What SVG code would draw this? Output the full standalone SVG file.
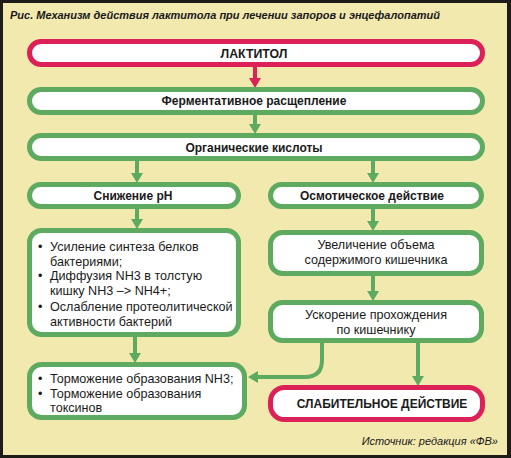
<svg xmlns="http://www.w3.org/2000/svg" width="511" height="458" viewBox="0 0 511 458">
<style>
.g{fill:#ffffff;stroke:#5eaa60;stroke-width:5}
.r{fill:#ffffff;stroke:#dc2159;stroke-width:5}
.cg{fill:none;stroke:#5eaa60;stroke-width:4}
.cr{fill:none;stroke:#dc2159;stroke-width:4}
text{font-family:"Liberation Sans",Arial,sans-serif;fill:#1a1a1a}
.h{font-size:12px;font-weight:bold;text-anchor:middle}
.hb{font-size:12.3px;font-weight:bold;text-anchor:middle}
.t{font-size:12.6px}
.tc{font-size:12.6px;text-anchor:middle}
.it{font-size:11px;font-style:italic}
</style>
<defs>
<marker id="ag" viewBox="0 0 10 12" refX="0" refY="6" markerWidth="10" markerHeight="12" markerUnits="userSpaceOnUse" orient="auto">
<path d="M0,0 L10,6 L0,12 z" fill="#5eaa60"/>
</marker>
<marker id="ar" viewBox="0 0 10 12" refX="0" refY="6" markerWidth="10" markerHeight="12" markerUnits="userSpaceOnUse" orient="auto">
<path d="M0,0 L10,6 L0,12 z" fill="#dc2159"/>
</marker>
</defs>
<rect x="0" y="0" width="511" height="458" fill="#1e1c18"/>
<rect x="3" y="3" width="504" height="452" fill="#f2e9af"/>
<text class="it" x="10" y="19" font-weight="bold" font-size="11.3px">Рис. Механизм действия лактитола при лечении запоров и энцефалопатий</text>

<g id="connectors">
<path class="cr" d="M255,66 V78" marker-end="url(#ar)"/>
<path class="cg" d="M255,114 V124" marker-end="url(#ag)"/>
<path class="cg" d="M137,160 V173" marker-end="url(#ag)"/>
<path class="cg" d="M373,160 V173" marker-end="url(#ag)"/>
<path class="cg" d="M137,208 V219" marker-end="url(#ag)"/>
<path class="cg" d="M373,208 V221" marker-end="url(#ag)"/>
<path class="cg" d="M373,275 V291" marker-end="url(#ag)"/>
<path class="cg" d="M135,336 V353" marker-end="url(#ag)"/>
<path class="cg" d="M418,342 V376" marker-end="url(#ag)"/>
<path class="cg" d="M322,342 V360 Q322,377 305,377 H258" marker-end="url(#ag)"/>
</g>

<g id="n-laktitol">
<rect class="r" x="29.5" y="41.5" width="453" height="23" rx="11.5"/>
<text class="hb" x="254" y="57.5">ЛАКТИТОЛ</text>
</g>
<g id="n-ferment">
<rect class="g" x="29.5" y="89.5" width="453" height="23" rx="11.5"/>
<text class="h" x="254" y="105">Ферментативное расщепление</text>
</g>
<g id="n-acids">
<rect class="g" x="29.5" y="135.5" width="453" height="23" rx="11.5"/>
<text class="h" x="254" y="151.5">Органические кислоты</text>
</g>
<g id="n-ph">
<rect class="g" x="29.5" y="184.5" width="209" height="22" rx="11"/>
<text class="h" x="133" y="200">Снижение pH</text>
</g>
<g id="n-osm">
<rect class="g" x="270.5" y="184.5" width="211" height="22" rx="11"/>
<text class="h" x="372" y="200">Осмотическое действие</text>
</g>
<g id="n-bullets">
<rect class="g" x="29.5" y="230.5" width="209" height="104" rx="12"/>
<text class="t" x="38" y="251">•</text><text class="t" x="50" y="251">Усиление синтеза белков</text>
<text class="t" x="50" y="266">бактериями;</text>
<text class="t" x="38" y="280">•</text><text class="t" x="50" y="280">Диффузия NH3 в толстую</text>
<text class="t" x="50" y="294.5">кишку NH3 –&gt; NH4+;</text>
<text class="t" x="38" y="310.5">•</text><text class="t" x="50" y="310.5">Ослабление протеолитической</text>
<text class="t" x="50" y="325.5">активности бактерий</text>
</g>
<g id="n-volume">
<rect class="g" x="270.5" y="232.5" width="211" height="41" rx="12"/>
<text class="tc" x="376" y="249">Увеличение объема</text>
<text class="tc" x="376" y="264">содержимого кишечника</text>
</g>
<g id="n-speed">
<rect class="g" x="270.5" y="302.5" width="211" height="38" rx="12"/>
<text class="tc" x="376" y="319">Ускорение прохождения</text>
<text class="tc" x="376" y="334">по кишечнику</text>
</g>
<g id="n-inhib">
<rect class="g" x="29.5" y="364.5" width="215" height="53" rx="12"/>
<text class="t" x="38" y="383">•</text><text class="t" x="50" y="383">Торможение образования NH3;</text>
<text class="t" x="38" y="398">•</text><text class="t" x="50" y="398">Торможение образования</text>
<text class="t" x="50" y="412">токсинов</text>
</g>
<g id="n-laxative">
<rect class="r" x="270.5" y="387.5" width="212" height="32" rx="14"/>
<text class="h" x="382" y="407.5" font-size="11.5px">СЛАБИТЕЛЬНОЕ ДЕЙСТВИЕ</text>
</g>
<text class="it" x="498" y="445" text-anchor="end">Источник: редакция «ФВ»</text>
</svg>
